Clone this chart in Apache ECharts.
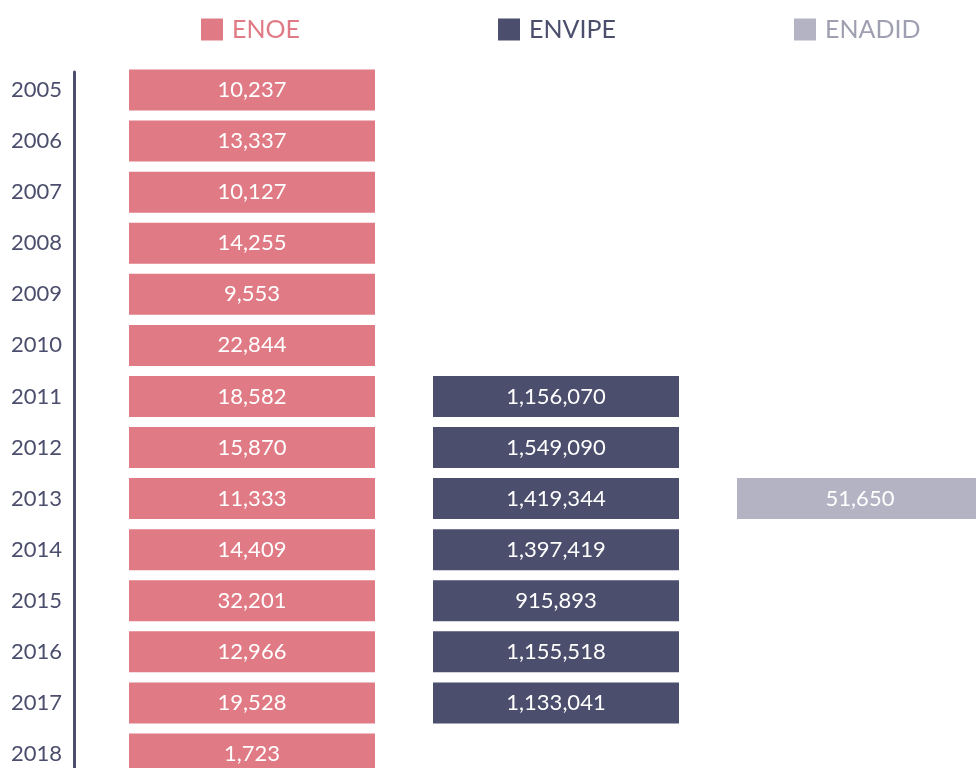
<!DOCTYPE html>
<html>
<head>
<meta charset="utf-8">
<script src="https://cdn.jsdelivr.net/npm/echarts@6/dist/echarts.min.js"></script>
<style>
  html, body { margin: 0; padding: 0; background: #fff; }
  #chart { width: 976px; height: 768px; }
</style>
</head>
<body>
<div id="chart"></div>
<script>
// Encuestas por año: cada celda es una caja de ancho fijo con el valor dentro.
const years = ['2005', '2006', '2007', '2008', '2009', '2010', '2011', '2012', '2013', '2014', '2015', '2016', '2017', '2018'];
const surveys = ['ENOE', 'ENVIPE', 'ENADID'];
const enoe = [10237, 13337, 10127, 14255, 9553, 22844, 18582, 15870, 11333, 14409, 32201, 12966, 19528, 1723];
const envipe = [null, null, null, null, null, null, 1156070, 1549090, 1419344, 1397419, 915893, 1155518, 1133041, null];
const enadid = [null, null, null, null, null, null, null, null, 51650, null, null, null, null, null];

const colors = { ENOE: '#e07a85', ENVIPE: '#4b4e6c', ENADID: '#b4b3c3' };
const legendText = { ENOE: '#e07a85', ENVIPE: '#4b4e6c', ENADID: '#9f9fb2' };
const FONT = 'Lato';

function cells(name, vals) {
  const out = [];
  vals.forEach((v, i) => { if (v != null) out.push([name, years[i], v]); });
  return out;
}

function boxSeries(name, vals) {
  return {
    name: name,
    type: 'scatter',
    xAxisIndex: 0,
    yAxisIndex: 0,
    symbol: 'rect',
    symbolSize: [246, 41],
    itemStyle: { color: colors[name], opacity: 1 },
    label: {
      show: true,
      position: 'inside',
      color: '#fff',
      fontFamily: FONT,
      fontSize: 22,
      formatter: p => p.value[2].toLocaleString('en-US')
    },
    emphasis: { disabled: true },
    data: cells(name, vals)
  };
}

const legendLeft = { ENOE: 196, ENVIPE: 493, ENADID: 789 };

const chart = echarts.init(document.getElementById('chart'));
chart.setOption({
  animation: false,
  legend: surveys.map(s => ({
    data: [s],
    left: legendLeft[s],
    top: 12,
    itemWidth: 22,
    itemHeight: 22,
    icon: 'rect',
    selectedMode: false,
    textStyle: { color: legendText[s], fontFamily: FONT, fontSize: 25, padding: [0, 0, 0, 4] }
  })),
  grid: [
    { left: 100, right: -36, top: 64.5, bottom: -11.5, outerBoundsMode: 'none' },
    // solo para la línea del eje, que arranca un poco más abajo
    { left: 100, right: -36, top: 72, bottom: -20, outerBoundsMode: 'none' }
  ],
  xAxis: [
    { type: 'category', data: surveys, gridIndex: 0, show: false },
    { type: 'value', gridIndex: 1, show: false }
  ],
  yAxis: [
    {
      type: 'category',
      data: years,
      inverse: true,
      gridIndex: 0,
      offset: 26,
      axisLine: { show: false },
      axisTick: { show: false },
      splitLine: { show: false },
      axisLabel: { color: '#4b4e6c', fontFamily: FONT, fontSize: 22, margin: 12 }
    },
    {
      type: 'value',
      gridIndex: 1,
      offset: 26,
      axisLine: { show: true, onZero: false, lineStyle: { color: '#4b4e6c', width: 3 } },
      axisTick: { show: false },
      axisLabel: { show: false },
      splitLine: { show: false }
    }
  ],
  series: [
    boxSeries('ENOE', enoe),
    boxSeries('ENVIPE', envipe),
    boxSeries('ENADID', enadid)
  ]
});
</script>
</body>
</html>
